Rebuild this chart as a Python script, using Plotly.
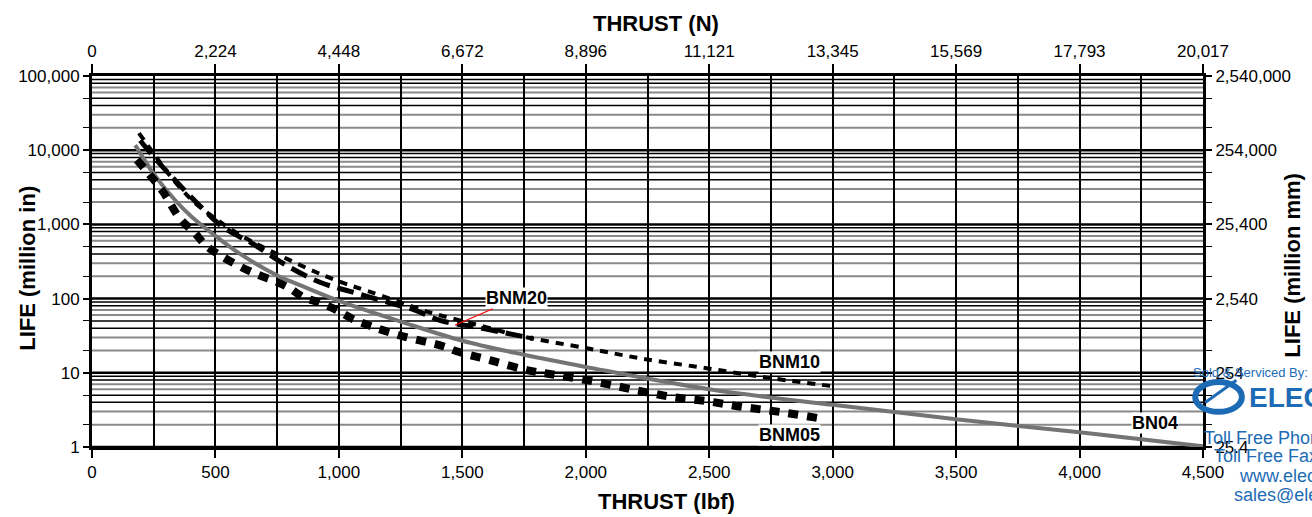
import numpy as np
import plotly.graph_objects as go

# ---------------- data ----------------
thrust_ticks_lbf = [0, 500, 1000, 1500, 2000, 2500, 3000, 3500, 4000, 4500]
thrust_labels_lbf = ["0", "500", "1,000", "1,500", "2,000", "2,500", "3,000", "3,500", "4,000", "4,500"]
thrust_labels_N = ["0", "2,224", "4,448", "6,672", "8,896", "11,121", "13,345", "15,569", "17,793", "20,017"]
life_ticks = [1, 10, 100, 1000, 10000, 100000]
life_labels_in = ["1", "10", "100", "1,000", "10,000", "100,000"]
life_labels_mm = ["25.4", "254", "2,540", "25,400", "254,000", "2,540,000"]

bn04_lbf = [175, 250, 336, 400, 486, 600, 750, 842, 1000, 1250, 1500, 1750, 2000, 2500, 3000, 3500, 4000, 4500]
bn04_life = [11700, 4800, 2130, 1300, 760, 400, 205, 152, 93, 49, 27, 17.5, 12, 6.0, 3.7, 2.36, 1.58, 1.02]

bnm05_lbf = [182, 235, 288, 356, 417, 464, 518, 600, 680, 748, 802, 855, 923, 991, 1057, 1134, 1260, 1422,
             1477, 1612, 1766, 1882, 2045, 2207, 2354, 2495, 2637, 2786, 2940]
bnm05_life = [7400, 4600, 2750, 1200, 760, 510, 385, 270, 205, 168, 137, 105, 88, 70, 53, 42, 31, 22.8,
              19.5, 14.8, 10.8, 9.3, 7.5, 5.8, 4.7, 4.13, 3.46, 2.97, 2.46]

bnm10_lbf = [190, 250, 308, 400, 490, 600, 701, 871, 1000, 1118, 1308, 1369, 1600, 1721, 2005, 2220, 2490, 2758, 3000]
bnm10_life = [17000, 9000, 4900, 2200, 1260, 720, 478, 257, 170, 126, 76, 65, 41, 32, 21.4, 15.7, 11.5, 8.4, 6.6]

bnm20_lbf = [195, 267, 348, 446, 531, 648, 780, 923, 1045, 1199, 1308, 1409, 1559, 1786]
bnm20_life = [13500, 7000, 3580, 1660, 918, 556, 290, 166, 125, 89, 70, 51, 41, 29]

grid_mantissas = [1, 2, 3, 4, 5, 6, 7, 8, 9]
grid_gray_mantissas = [2, 3, 6, 7]

FONT = "Liberation Sans, Arial, sans-serif"

fig = go.Figure()

fig.add_trace(go.Scatter(x=bn04_lbf, y=bn04_life, mode="lines", line=dict(color="#747474", width=4, shape="spline"),
                         name="BN04", showlegend=False, hoverinfo="skip"))
fig.add_trace(go.Scatter(x=bnm05_lbf, y=bnm05_life, mode="lines",
                         line=dict(color="black", width=8, dash="10px,9px", shape="spline"),
                         name="BNM05", showlegend=False, hoverinfo="skip"))
fig.add_trace(go.Scatter(x=bnm10_lbf, y=bnm10_life, mode="lines",
                         line=dict(color="black", width=4, dash="8px,7px", shape="spline"),
                         name="BNM10", showlegend=False, hoverinfo="skip"))
fig.add_trace(go.Scatter(x=bnm20_lbf, y=bnm20_life, mode="lines",
                         line=dict(color="black", width=5, dash="17px,8px", shape="spline"),
                         name="BNM20", showlegend=False, hoverinfo="skip"))
# invisible trace that carries the secondary (top / right) axes
fig.add_trace(go.Scatter(x=bn04_lbf, y=bn04_life, mode="lines", line=dict(width=0), opacity=0,
                         xaxis="x2", yaxis="y2", showlegend=False, hoverinfo="skip"))

# horizontal grid (log decades with minor lines)
shapes = []
for dec in life_ticks[:-1]:
    for m in grid_mantissas:
        v = m * dec
        gray = m in grid_gray_mantissas
        shapes.append(dict(type="line", xref="paper", yref="y", x0=0, x1=1, y0=v, y1=v,
                           line=dict(color="#8a8a8a" if gray else "black",
                                     width=2 if gray else (2.5 if m == 1 else 1.5)),
                           layer="below"))
BLUE = "#1d6bb5"
# watermark logo
shapes.append(dict(type="circle", xref="paper", yref="paper", x0=0.993, x1=1.035, y0=0.095, y1=0.175,
                   line=dict(color=BLUE, width=6)))
shapes.append(dict(type="line", xref="paper", yref="paper", x0=1.002, x1=1.03, y0=0.12, y1=0.18,
                   line=dict(color=BLUE, width=3)))

minor_x = [t + 250 for t in thrust_ticks_lbf[:-1]]
TICKFONT = dict(family=FONT, size=17, color="black")

fig.update_layout(
    width=1312, height=517,
    margin=dict(l=92, r=109, t=76, b=70),
    paper_bgcolor="white", plot_bgcolor="white",
    font=dict(family=FONT, color="black", size=17),
    shapes=shapes,
    xaxis=dict(range=[0, 4500], tickmode="array", tickvals=thrust_ticks_lbf, ticktext=thrust_labels_lbf,
               ticks="outside", ticklen=8, tickwidth=1.5, tickcolor="black",
               showgrid=True, gridcolor="black", gridwidth=1.5,
               minor=dict(tickmode="array", tickvals=minor_x, showgrid=True, gridcolor="black", gridwidth=1.5,
                          ticks=""),
               showline=True, linecolor="black", linewidth=3, zeroline=False, tickfont=TICKFONT),
    xaxis2=dict(range=[0, 4500], overlaying="x", side="top", tickmode="array", tickvals=thrust_ticks_lbf,
                ticktext=thrust_labels_N, ticks="outside", ticklen=9, tickwidth=1.5, tickcolor="black",
                showgrid=False, showline=True, linecolor="black", linewidth=3, zeroline=False,
                tickfont=TICKFONT),
    yaxis=dict(type="log", range=[0, 5], tickmode="array", tickvals=life_ticks, ticktext=life_labels_in,
               ticks="outside", ticklen=6, tickwidth=1.5, tickcolor="black", showgrid=False,
               minor=dict(ticks="outside", ticklen=6, tickcolor="black", tickwidth=1, showgrid=False),
               showline=True, linecolor="black", linewidth=3, zeroline=False, tickfont=TICKFONT),
    yaxis2=dict(type="log", range=[0, 5], overlaying="y", side="right", tickmode="array", tickvals=life_ticks,
                ticktext=life_labels_mm, ticks="outside", ticklen=6, tickwidth=1.5, tickcolor="black",
                minor=dict(ticks="outside", ticklen=6, tickcolor="black", tickwidth=1, showgrid=False),
                showgrid=False, showline=True, linecolor="black", linewidth=3, zeroline=False,
                tickfont=TICKFONT),
)

TITLE_FONT = dict(family=FONT, size=22, color="black")
LABEL_FONT = dict(family=FONT, size=18, color="black")
ann = [
    dict(text="<b>THRUST (N)</b>", xref="paper", yref="paper", x=0.508, y=1, yshift=53, showarrow=False,
         font=TITLE_FONT, yanchor="middle"),
    dict(text="<b>THRUST (lbf)</b>", xref="paper", yref="paper", x=0.517, y=0, yshift=-54, showarrow=False,
         font=TITLE_FONT, yanchor="middle"),
    dict(text="<b>LIFE (million in)</b>", xref="paper", yref="paper", x=-0.058, y=0.482, textangle=-90,
         showarrow=False, font=TITLE_FONT, xanchor="center", yanchor="middle"),
    dict(text="<b>LIFE (million mm)</b>", xref="paper", yref="paper", x=1.0805, y=0.49, textangle=-90,
         showarrow=False, font=TITLE_FONT, xanchor="center", yanchor="middle"),
    # curve labels
    dict(text="<b>BNM20</b>", x=1470, y=np.log10(43.8), ax=62, ay=-27, showarrow=True, arrowhead=0,
         arrowwidth=1.2, arrowcolor="red", font=LABEL_FONT, bgcolor="white", borderpad=0),
    dict(text="<b>BNM10</b>", x=2827, y=np.log10(13.9), showarrow=False, font=LABEL_FONT, bgcolor="white",
         borderpad=0),
    dict(text="<b>BNM05</b>", x=2827, y=np.log10(1.44), showarrow=False, font=LABEL_FONT, bgcolor="white",
         borderpad=0),
    dict(text="<b>BN04</b>", x=4305, y=np.log10(2.09), showarrow=False, font=LABEL_FONT, bgcolor="white",
         borderpad=0),
    # watermark
    dict(text="Sold & Serviced By:", xref="paper", yref="paper", x=0.989, y=0.2, xanchor="left",
         yanchor="middle", showarrow=False, font=dict(family=FONT, size=13, color=BLUE)),
    dict(text="<b>ELECTROMATE</b>", xref="paper", yref="paper", x=1.04, y=0.133, xanchor="left",
         yanchor="middle", showarrow=False, font=dict(family=FONT, size=28, color=BLUE)),
    dict(text="Toll Free Phone", xref="paper", yref="paper", x=0.999, y=0.025, xanchor="left",
         yanchor="middle", showarrow=False, font=dict(family=FONT, size=18, color=BLUE)),
    dict(text="Toll Free Fax", xref="paper", yref="paper", x=1.008, y=-0.025, xanchor="left",
         yanchor="middle", showarrow=False, font=dict(family=FONT, size=18, color=BLUE)),
    dict(text="www.electromate.com", xref="paper", yref="paper", x=1.031, y=-0.078, xanchor="left",
         yanchor="middle", showarrow=False, font=dict(family=FONT, size=18, color=BLUE)),
    dict(text="sales@electromate.com", xref="paper", yref="paper", x=1.026, y=-0.13, xanchor="left",
         yanchor="middle", showarrow=False, font=dict(family=FONT, size=18, color=BLUE)),
]
fig.update_layout(annotations=ann)

fig.write_html("out.html", config={"displayModeBar": False},
               post_script="document.body.style.margin='0';")
